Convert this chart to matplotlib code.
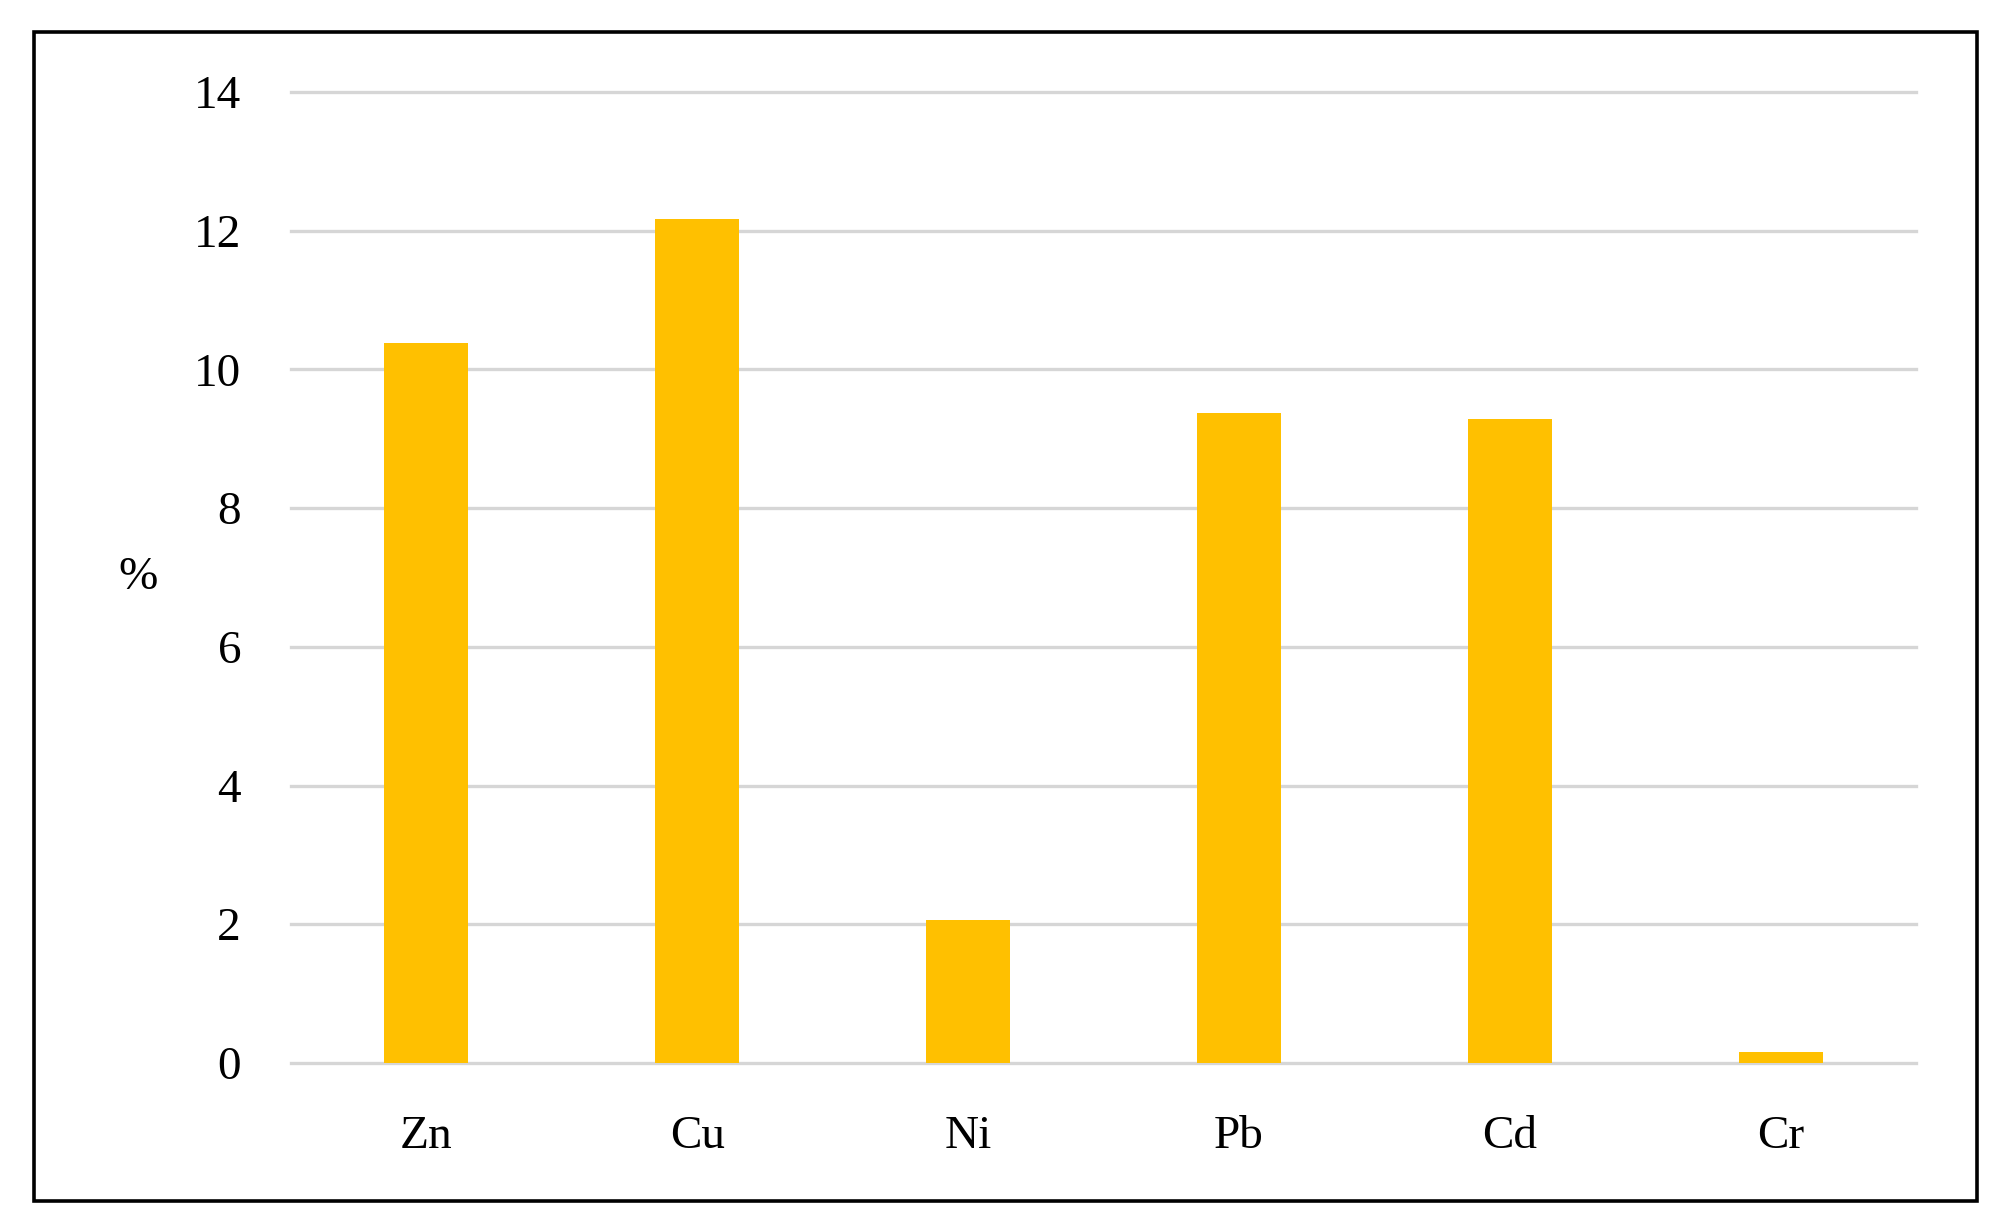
import matplotlib
matplotlib.use("Agg")
import matplotlib.pyplot as plt
from matplotlib.patches import Rectangle

categories = ["Zn", "Cu", "Ni", "Pb", "Cd", "Cr"]
values = [10.38, 12.17, 2.06, 9.37, 9.29, 0.16]
yticks = [0, 2, 4, 6, 8, 10, 12, 14]

plt.rcParams['font.family'] = ['Liberation Serif', 'DejaVu Serif']

fig = plt.figure(figsize=(20.03, 12.27), dpi=100)
ax = fig.add_axes([0.1453, 0.1337, 0.8113, 0.7913])

x = list(range(len(categories)))
ax.bar(x, values, width=0.31, color="#FFC000", zorder=3)

ax.set_xlim(-0.5, len(categories) - 0.5)
ax.set_ylim(0, 14)
ax.set_yticks(yticks)
ax.set_yticklabels([str(t) for t in yticks], fontsize=34)
ax.set_xticks(x)
ax.set_xticklabels(categories, fontsize=34)
ax.tick_params(axis='both', length=0)
ax.tick_params(axis='y', pad=36)
ax.tick_params(axis='x', pad=38)

ax.yaxis.grid(True, color="#d6d6d6", linewidth=2.4)
ax.set_axisbelow(True)
for gl in ax.get_ygridlines():
    gl.set_clip_on(False)
for s in ax.spines.values():
    s.set_visible(False)

ax.set_ylabel("%", fontsize=34, rotation=0, labelpad=40, va='center')

# outer frame
fig.patches.append(Rectangle((34 / 2003, 1 - 1201 / 1227), (1977 - 34) / 2003, (1201 - 32) / 1227,
                             transform=fig.transFigure, fill=False, edgecolor="black",
                             linewidth=2.6, zorder=10))

fig.savefig("out.png", dpi=100)
